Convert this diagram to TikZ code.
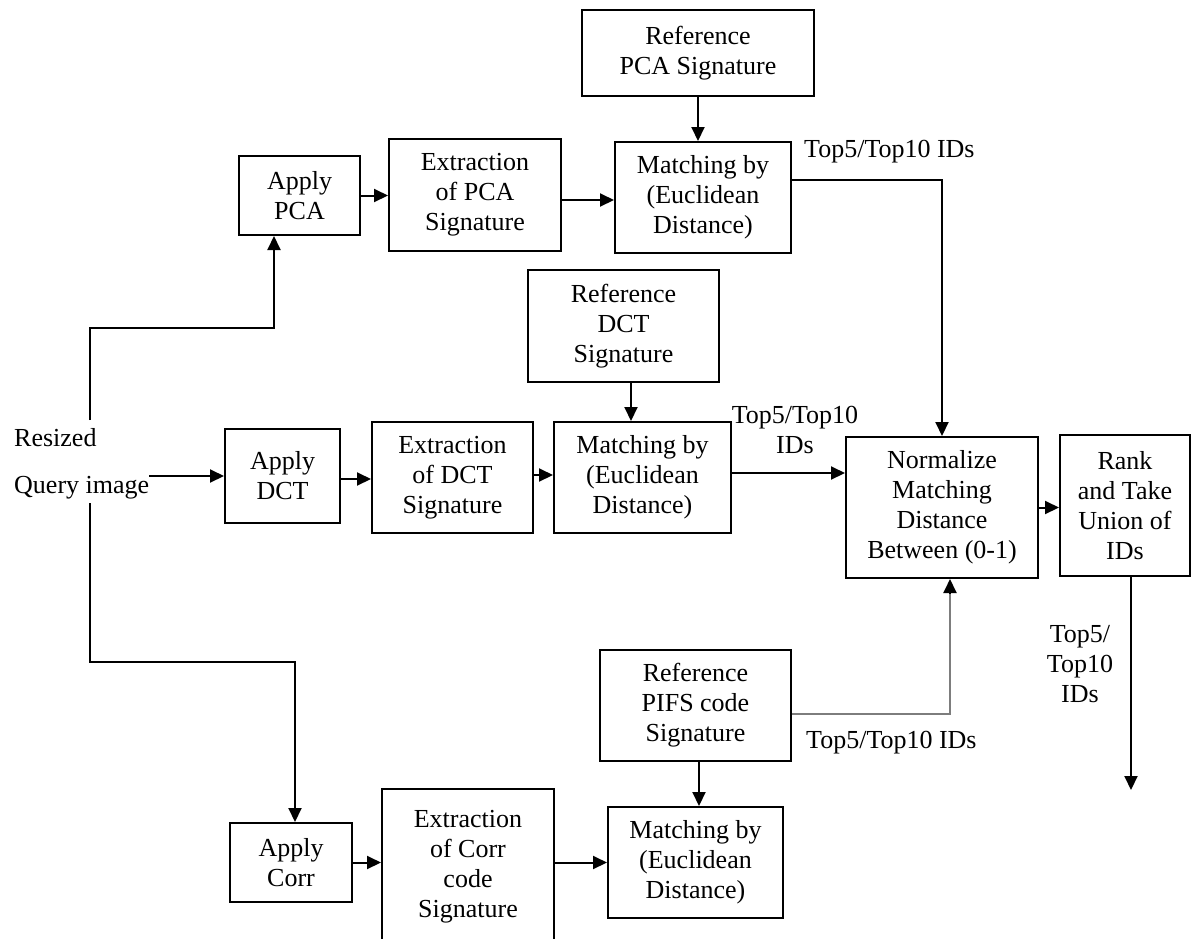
\documentclass[tikz,border=0pt]{standalone}
\usepackage{fontspec}
\setmainfont{Liberation Serif}
\usepackage{tikz}
\usetikzlibrary{calc,arrows.meta}
\definecolor{pifsgray}{RGB}{125,125,125}
\newcommand\boxfont{\fontsize{26}{30}\selectfont}
\tikzstyle{blockbox}=[rectangle,draw=black,fill=white,line width=2pt,
                      font=\boxfont,align=center,inner sep=2pt]
\tikzstyle{idlabel}=[font=\boxfont,align=center,inner sep=0pt]
\tikzstyle{arr}=[line width=2pt,-{Triangle[length=14pt,width=13pt]}]
\tikzstyle{flow}=[line width=2pt]

\begin{document}
\begin{tikzpicture}[x=1pt,y=-1pt]
    \useasboundingbox (0,0) rectangle (1192,938);
    % PCA branch
    \node [blockbox,minimum width=232,minimum height=86] (refPCA) at (698,53) {Reference\\PCA Signature};
    \node [blockbox,minimum width=121,minimum height=79] (applyPCA) at (299.5,195.5) {Apply\\PCA};
    \node [blockbox,minimum width=172,minimum height=112] (extPCA) at (475,195) {Extraction\\of PCA\\Signature};
    \node [blockbox,minimum width=176,minimum height=111] (matchPCA) at (703,197.5) {Matching by\\(Euclidean\\Distance)};
    % DCT branch
    \node [blockbox,minimum width=191,minimum height=112] (refDCT) at (623.5,326) {Reference\\DCT\\Signature};
    \node [blockbox,minimum width=115,minimum height=94] (applyDCT) at (282.5,476) {Apply\\DCT};
    \node [blockbox,minimum width=161,minimum height=111] (extDCT) at (452.5,477.5) {Extraction\\of DCT\\Signature};
    \node [blockbox,minimum width=177,minimum height=111] (matchDCT) at (642.5,477.5) {Matching by\\(Euclidean\\Distance)};
    \node [blockbox,minimum width=192,minimum height=141] (normalize) at (942,507.5) {Normalize\\Matching\\Distance\\Between (0-1)};
    \node [blockbox,minimum width=130,minimum height=141] (rank) at (1125,505.5) {Rank\\and Take\\Union of\\IDs};
    % Corr branch
    \node [blockbox,minimum width=191,minimum height=111] (refPIFS) at (695.5,705.5) {Reference\\PIFS code\\Signature};
    \node [blockbox,minimum width=122,minimum height=79] (applyCorr) at (291,862.5) {Apply\\Corr};
    \node [blockbox,minimum width=172,minimum height=156] (extCorr) at (468,867) {Extraction\\of Corr\\code\\Signature};
    \node [blockbox,minimum width=175,minimum height=111] (matchCorr) at (695.5,862.5) {Matching by\\(Euclidean\\Distance)};

    \node [idlabel,align=left,anchor=west] (query) at (14,463.5) {Resized\\[17pt]Query image};
    \node [idlabel,anchor=west] (idsPCA) at (804,152) {Top5/Top10 IDs};
    \node [idlabel] (idsDCT) at (795,430) {Top5/Top10\\IDs};
    \node [idlabel,anchor=west] (idsPIFS) at (806,743) {Top5/Top10 IDs};
    \node [idlabel] (idsRank) at (1080,664) {Top5/\\Top10\\IDs};

    \coordinate (qup) at (90,420);
    \coordinate (qdown) at (90,503);
    \coordinate (rankout) at (1131,790);

    \draw [arr] (qup) -- (90,328) -| ([xshift=-25.5pt]applyPCA.south);
    \draw [arr] (qdown) -- (90,662) -| ([xshift=4pt]applyCorr.north);
    \draw [arr] (query.east |- applyDCT.west) -- (applyDCT.west);

    \draw [arr] (applyPCA.east) -- (applyPCA.east -| extPCA.west);
    \draw [arr] ([yshift=-5pt]extPCA.east) -- ([yshift=-5pt]extPCA.east -| matchPCA.west);
    \draw [arr] (refPCA.south) -- (refPCA.south |- matchPCA.north);
    \draw [arr] ([yshift=17.5pt]matchPCA.east) -| (normalize.north);

    \draw [arr] ([xshift=7.5pt]refDCT.south) -- ([xshift=7.5pt]refDCT.south |- matchDCT.north);
    \draw [arr] ([yshift=-3pt]applyDCT.east) -- ([yshift=-3pt]applyDCT.east -| extDCT.west);
    \draw [arr] ([yshift=2.5pt]extDCT.east) -- ([yshift=2.5pt]extDCT.east -| matchDCT.west);
    \draw [arr] ([yshift=4.5pt]matchDCT.east) -- ([yshift=4.5pt]matchDCT.east -| normalize.west);
    \draw [arr] (normalize.east) -- (normalize.east -| rank.west);
    \draw [arr] ([xshift=6pt]rank.south) -- (rankout);

    \draw [flow,draw=pifsgray,line width=2.8pt] ([yshift=-8.5pt]refPIFS.east) -| ([xshift=8pt,yshift=-14pt]normalize.south);
    \draw [arr] ([xshift=8pt,yshift=-14pt]normalize.south) -- ([xshift=8pt]normalize.south);
    \draw [arr] ([xshift=3.5pt]refPIFS.south) -- ([xshift=3.5pt]refPIFS.south |- matchCorr.north);

    \draw [arr] (applyCorr.east) -- (applyCorr.east -| extCorr.west);
    \draw [arr] (matchCorr.west -| extCorr.east) -- (matchCorr.west);
\end{tikzpicture}
\end{document}
